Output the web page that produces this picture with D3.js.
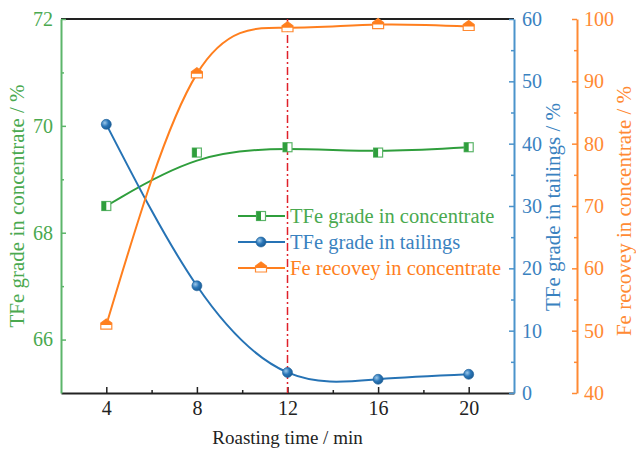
<!DOCTYPE html>
<html>
<head>
<meta charset="utf-8">
<script src="https://cdn.jsdelivr.net/npm/d3@7"></script>
<style>
  body { margin: 0; background: #fff; }
</style>
</head>
<body>
<div class="chart"></div>
<script>
"use strict"
// roasting time (min) and the three series
const times = [4, 8, 12, 16, 20];
const gradeConc = [68.5, 69.5, 69.6, 69.5, 69.6];
const gradeTail = [43.1, 17.2, 3.3, 2.2, 3.0];
const recovery = [50.9, 91.2, 98.6, 99.1, 98.8];

const xTicks = [4, 8, 12, 16, 20];
const leftTicks = [66, 68, 70, 72];
const tailTicks = [0, 10, 20, 30, 40, 50, 60];
const recTicks = [40, 50, 60, 70, 80, 90, 100];
const legendNames = ["TFe grade in concentrate", "TFe grade in tailings", "Fe recovey in concentrate"];

const W = 636, H = 452;
const L = 61, R = 514, T = 19, B = 393, R2 = 577;
const FONT = "'Liberation Serif', 'Times New Roman', Times, serif";

const cGreen = "#2f9e3c", cGreenAx = "#5cb56a", cGreenTx = "#4aa94f";
const cBlue = "#2673b5", cBlueAx = "#4b93cb", cBlueTx = "#3a82c0";
const cOrange = "#ff7f1e", cOrangeAx = "#ff8a33";

let svg = d3.select(".chart").append("svg")
  .attr("width", W).attr("height", H)
  .style("font-family", FONT);

let defs = svg.append("defs");
let grad = defs.append("radialGradient").attr("id", "ball")
  .attr("cx", "35%").attr("cy", "35%").attr("r", "65%");
grad.append("stop").attr("offset", "0%").attr("stop-color", "#9cc8ea");
grad.append("stop").attr("offset", "55%").attr("stop-color", "#2a76b8");
grad.append("stop").attr("offset", "100%").attr("stop-color", "#1d5f98");

let x = d3.scaleLinear().domain([2, 22]).range([L, R]);
let yL = d3.scaleLinear().domain([65, 72]).range([B, T]);
let yT = d3.scaleLinear().domain([0, 60]).range([B, T]);
let yR = d3.scaleLinear().domain([40, 100]).range([B, T]);

function styleAxis(g, col, txtCol) {
  g.attr("font-family", null);
  g.select(".domain").attr("stroke", col).attr("stroke-width", 2);
  g.selectAll(".tick line").attr("stroke", col).attr("stroke-width", 1.5);
  g.selectAll(".tick text").attr("fill", txtCol)
    .style("font-family", FONT).style("font-size", "20px");
}

// top frame line
svg.append("line").attr("x1", L).attr("x2", R).attr("y1", T).attr("y2", T)
  .attr("stroke", "#222").attr("stroke-width", 2);

// bottom axis
let gx = svg.append("g").attr("transform", `translate(0,${B})`)
  .call(d3.axisBottom(x).tickValues(xTicks).tickFormat(d3.format("d"))
    .tickSizeInner(-6).tickSizeOuter(0).tickPadding(8));
styleAxis(gx, "#222", "#222");
svg.append("g").attr("transform", `translate(0,${B})`)
  .call(d3.axisBottom(x).tickValues([6, 10, 14, 18]).tickSize(-3).tickFormat(""))
  .call(g => g.select(".domain").remove())
  .selectAll("line").attr("stroke", "#222").attr("stroke-width", 1.5);

// left axis
let gl = svg.append("g").attr("transform", `translate(${L},0)`)
  .call(d3.axisLeft(yL).tickValues(leftTicks).tickFormat(d3.format("d"))
    .tickSizeInner(-5).tickSizeOuter(0).tickPadding(8));
styleAxis(gl, cGreenAx, cGreenTx);
svg.append("g").attr("transform", `translate(${L},0)`)
  .call(d3.axisLeft(yL).tickValues([67, 69, 71]).tickSize(-3).tickFormat(""))
  .call(g => g.select(".domain").remove())
  .selectAll("line").attr("stroke", cGreenAx).attr("stroke-width", 1.5);

// tailings axis
let gt = svg.append("g").attr("transform", `translate(${R},0)`)
  .call(d3.axisRight(yT).tickValues(tailTicks).tickFormat(d3.format("d"))
    .tickSizeInner(-5).tickSizeOuter(0).tickPadding(8));
styleAxis(gt, cBlueAx, cBlueTx);
svg.append("g").attr("transform", `translate(${R},0)`)
  .call(d3.axisRight(yT).tickValues([5, 15, 25, 35, 45, 55]).tickSize(-3).tickFormat(""))
  .call(g => g.select(".domain").remove())
  .selectAll("line").attr("stroke", cBlueAx).attr("stroke-width", 1.5);

// recovery axis
let gr = svg.append("g").attr("transform", `translate(${R2},0)`)
  .call(d3.axisRight(yR).tickValues(recTicks).tickFormat(d3.format("d"))
    .tickSizeInner(-5).tickSizeOuter(0).tickPadding(7));
styleAxis(gr, cOrangeAx, cOrangeAx);
svg.append("g").attr("transform", `translate(${R2},0)`)
  .call(d3.axisRight(yR).tickValues([45, 55, 65, 75, 85, 95]).tickSize(-3).tickFormat(""))
  .call(g => g.select(".domain").remove())
  .selectAll("line").attr("stroke", cOrangeAx).attr("stroke-width", 1.5);

// axis titles
function title(sel) {
  return sel.style("font-family", FONT).style("font-size", "21px").attr("text-anchor", "middle");
}
title(svg.append("text").attr("x", (L + R) / 2).attr("y", 444))
  .style("font-size", "19px").attr("fill", "#222").text("Roasting time / min");
title(svg.append("text").attr("transform", "translate(24,206) rotate(-90)"))
  .attr("fill", cGreenTx).text("TFe grade in concentrate / %");
title(svg.append("text").attr("transform", "translate(560,207) rotate(-90)"))
  .attr("fill", cBlueTx).text("TFe grade in tailings / %");
title(svg.append("text").attr("transform", "translate(631,211) rotate(-90)"))
  .attr("fill", cOrangeAx).text("Fe recovey in concentrate / %");

// reference line at 12 min
svg.append("line").attr("x1", x(12)).attr("x2", x(12)).attr("y1", T).attr("y2", B)
  .attr("stroke", "#e0202a").attr("stroke-width", 1.5).attr("stroke-dasharray", "8,3,2,3");

// series lines
let lineC = d3.line().x((d, i) => x(times[i])).y(d => yL(d)).curve(d3.curveBasis);
let lineT = d3.line().x((d, i) => x(times[i])).y(d => yT(d)).curve(d3.curveNatural);
let lineR = d3.line().x((d, i) => x(times[i])).y(d => yR(d)).curve(d3.curveNatural);

svg.append("path").attr("d", lineC(gradeConc)).attr("fill", "none").attr("stroke", cGreen).attr("stroke-width", 2);
svg.append("path").attr("d", lineT(gradeTail)).attr("fill", "none").attr("stroke", cBlue).attr("stroke-width", 2);
svg.append("path").attr("d", lineR(recovery)).attr("fill", "none").attr("stroke", cOrange).attr("stroke-width", 2);

// marker drawers
function squareMark(g, cx, cy) {
  g.append("rect").attr("x", cx - 4.5).attr("y", cy - 4.5).attr("width", 9).attr("height", 9)
    .attr("fill", "#fff").attr("stroke", cGreenAx).attr("stroke-width", 1.2);
  g.append("rect").attr("x", cx - 4.5).attr("y", cy - 4.5).attr("width", 4.5).attr("height", 9)
    .attr("fill", cGreen);
}
function ballMark(g, cx, cy) {
  g.append("circle").attr("cx", cx).attr("cy", cy).attr("r", 5)
    .attr("fill", "url(#ball)").attr("stroke", "#1d5f98").attr("stroke-width", 0.6);
}
function houseMark(g, cx, cy) {
  g.append("path")
    .attr("d", `M${cx},${cy - 6}L${cx + 5.5},${cy - 2}L${cx + 5.5},${cy + 4}L${cx - 5.5},${cy + 4}L${cx - 5.5},${cy - 2}Z`)
    .attr("fill", "#fff").attr("stroke", cOrangeAx).attr("stroke-width", 1.2);
  g.append("path")
    .attr("d", `M${cx},${cy - 6}L${cx + 5.5},${cy - 2}L${cx + 5.5},${cy}L${cx - 5.5},${cy}L${cx - 5.5},${cy - 2}Z`)
    .attr("fill", cOrange);
}

let mk = svg.append("g");
gradeConc.forEach((v, i) => squareMark(mk, x(times[i]), yL(v)));
gradeTail.forEach((v, i) => ballMark(mk, x(times[i]), yT(v)));
recovery.forEach((v, i) => houseMark(mk, x(times[i]), yR(v)));

// legend
const legCols = [cGreen, cBlue, cOrange];
const legTxt = [cGreenTx, cBlueTx, cOrange];
const legMarks = [squareMark, ballMark, houseMark];
legendNames.forEach((name, i) => {
  let yy = 216 + i * 26;
  let g = svg.append("g");
  g.append("line").attr("x1", 238).attr("x2", 285).attr("y1", yy).attr("y2", yy)
    .attr("stroke", legCols[i]).attr("stroke-width", 2);
  legMarks[i](g, 261, yy);
  g.append("text").attr("x", 290).attr("y", yy + 7).attr("fill", legTxt[i])
    .style("font-family", FONT).style("font-size", "20.5px").text(name);
});
</script>
</body>
</html>
